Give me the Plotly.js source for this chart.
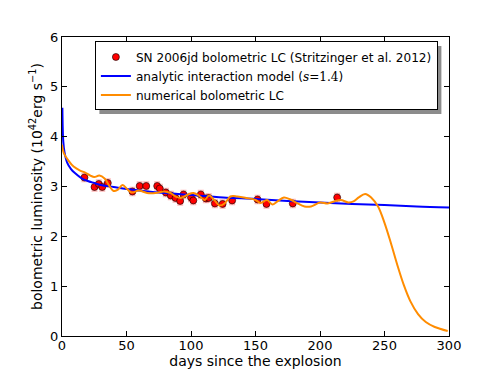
<!DOCTYPE html>
<html>
<head>
<meta charset="utf-8">
<script src="https://cdn.plot.ly/plotly-3.0.1.min.js"></script>
<style>
  html, body { margin: 0; padding: 0; background: #fff; }
  #lc { width: 498px; height: 374px; }
</style>
</head>
<body>
<div id="lc"></div>
<script>
// SN 2006jd observed points (days, 1e42 erg/s)
var obsDays = [17.4, 25.2, 28.5, 31.2, 35.5, 54.6, 60.2, 65.3, 73.8, 75.8, 80.5, 84.3, 88.0, 91.6, 94.2, 100.0, 101.8, 107.6, 111.5, 113.8, 118.5, 124.5, 131.9, 151.6, 158.5, 178.9, 213.3];
var obsLum  = [3.18, 2.99, 3.05, 2.99, 3.07, 2.90, 3.01, 3.01, 3.01, 2.96, 2.88, 2.82, 2.77, 2.71, 2.84, 2.78, 2.72, 2.84, 2.76, 2.77, 2.66, 2.65, 2.72, 2.74, 2.65, 2.66, 2.78];
var obsErr  = [0.08, 0.08, 0.08, 0.08, 0.08, 0.08, 0.08, 0.08, 0.08, 0.08, 0.08, 0.08, 0.08, 0.08, 0.08, 0.08, 0.08, 0.08, 0.08, 0.08, 0.08, 0.08, 0.08, 0.08, 0.08, 0.08, 0.08];

// analytic interaction model, s = 1.4
var modelDays = [0.3, 1, 2, 4, 7, 10, 15, 20, 25, 30, 40, 50, 60, 75, 90, 100, 125, 150, 175, 200, 225, 250, 275, 300];
var modelLum  = [4.58, 3.9, 3.68, 3.48, 3.35, 3.27, 3.17, 3.11, 3.07, 3.03, 2.99, 2.95, 2.92, 2.88, 2.85, 2.83, 2.78, 2.75, 2.71, 2.68, 2.65, 2.63, 2.60, 2.58];

// numerical bolometric LC
var numDays = [0, 1.4, 5, 9, 14, 18, 22, 25, 29, 33, 37, 40, 43, 47, 50.5, 54, 59.5, 66, 72.5, 79, 84, 88, 92, 97, 102, 107, 110.5, 114, 118, 122, 126, 130.6, 136, 143, 150, 154, 159, 163, 167, 172, 177, 182, 188, 193, 200, 206, 211, 216, 222, 226, 230, 235, 240, 245, 250, 255, 260, 265, 270, 276, 282, 289, 299];
var numLum  = [3.84, 3.67, 3.52, 3.40, 3.32, 3.28, 3.22, 3.19, 3.22, 3.16, 3.00, 2.91, 2.93, 3.03, 2.95, 2.88, 2.92, 2.87, 2.87, 2.90, 2.87, 2.80, 2.77, 2.83, 2.87, 2.80, 2.73, 2.82, 2.73, 2.62, 2.66, 2.80, 2.80, 2.77, 2.73, 2.67, 2.73, 2.64, 2.70, 2.78, 2.74, 2.67, 2.60, 2.60, 2.68, 2.66, 2.70, 2.73, 2.68, 2.70, 2.78, 2.85, 2.77, 2.60, 2.27, 1.86, 1.42, 1.02, 0.70, 0.44, 0.28, 0.18, 0.10];

var xTicks = [0, 50, 100, 150, 200, 250, 300];
var yTicks = [0, 1, 2, 3, 4, 5, 6];

var points = {
  x: obsDays, y: obsLum,
  error_y: {type: 'data', array: obsErr, visible: true, color: 'rgba(255,110,110,0.5)', thickness: 1.5, width: 3},
  mode: 'markers',
  name: 'SN 2006jd bolometric LC (Stritzinger et al. 2012)',
  marker: {color: 'red', size: 7, line: {color: 'black', width: 0.6}}
};

var analytic = {
  x: modelDays, y: modelLum,
  mode: 'lines',
  name: "analytic interaction model (<span style='font-family:DejaVu Serif'><i>s</i>=1.4</span>)",
  line: {color: 'blue', width: 2, shape: 'spline'}
};

var numerical = {
  x: numDays, y: numLum,
  mode: 'lines',
  name: 'numerical bolometric LC',
  line: {color: 'darkorange', width: 2, shape: 'spline', smoothing: 1}
};

var axisStyle = {
  showline: true, linecolor: 'black', linewidth: 1, mirror: 'allticks',
  ticks: 'inside', ticklen: 5, tickcolor: 'black',
  showgrid: false, zeroline: false,
  tickfont: {family: 'DejaVu Sans', size: 13, color: 'black'}
};

var layout = {
  width: 498, height: 374,
  margin: {l: 62, r: 49, t: 37, b: 38},
  paper_bgcolor: 'white', plot_bgcolor: 'white',
  font: {family: 'DejaVu Sans', color: 'black'},
  showlegend: true,
  legend: {
    x: 0.085, y: 0.985, xanchor: 'left', yanchor: 'top',
    bgcolor: 'white', bordercolor: 'black', borderwidth: 1,
    font: {family: 'DejaVu Sans', size: 12.1, color: 'black'}
  },
  xaxis: Object.assign({}, axisStyle, {
    range: [0, 300], tickvals: xTicks, ticklabelstandoff: -3,
    title: {text: 'days since the explosion', font: {size: 14}, standoff: 0}
  }),
  yaxis: Object.assign({}, axisStyle, {
    range: [0, 6], tickvals: yTicks,
    title: {text: 'bolometric luminosity (10<sup>42</sup>erg s<sup>\u22121</sup>)', font: {size: 14}, standoff: 4}
  })
};

var gd = document.getElementById('lc');
Plotly.newPlot(gd, [points, analytic, numerical], layout, {displayModeBar: false}).then(function () {
  // drop shadow behind the legend box, placed from the drawn legend
  var bg = gd.querySelector('.legend .bg');
  if (!bg) return;
  var r = bg.getBoundingClientRect();
  var g = gd.getBoundingClientRect();
  var s = gd._fullLayout._size;
  var px = function (v) { return (v - g.left - s.l) / s.w; };
  var py = function (v) { return 1 - (v - g.top - s.t) / s.h; };
  return Plotly.relayout(gd, {shapes: [{
    type: 'rect', xref: 'paper', yref: 'paper', layer: 'above',
    x0: px(r.left + 4), x1: px(r.right + 4), y0: py(r.bottom + 4), y1: py(r.top + 4),
    fillcolor: 'rgba(0,0,0,0.45)', line: {width: 0}
  }]});
});
</script>
</body>
</html>
